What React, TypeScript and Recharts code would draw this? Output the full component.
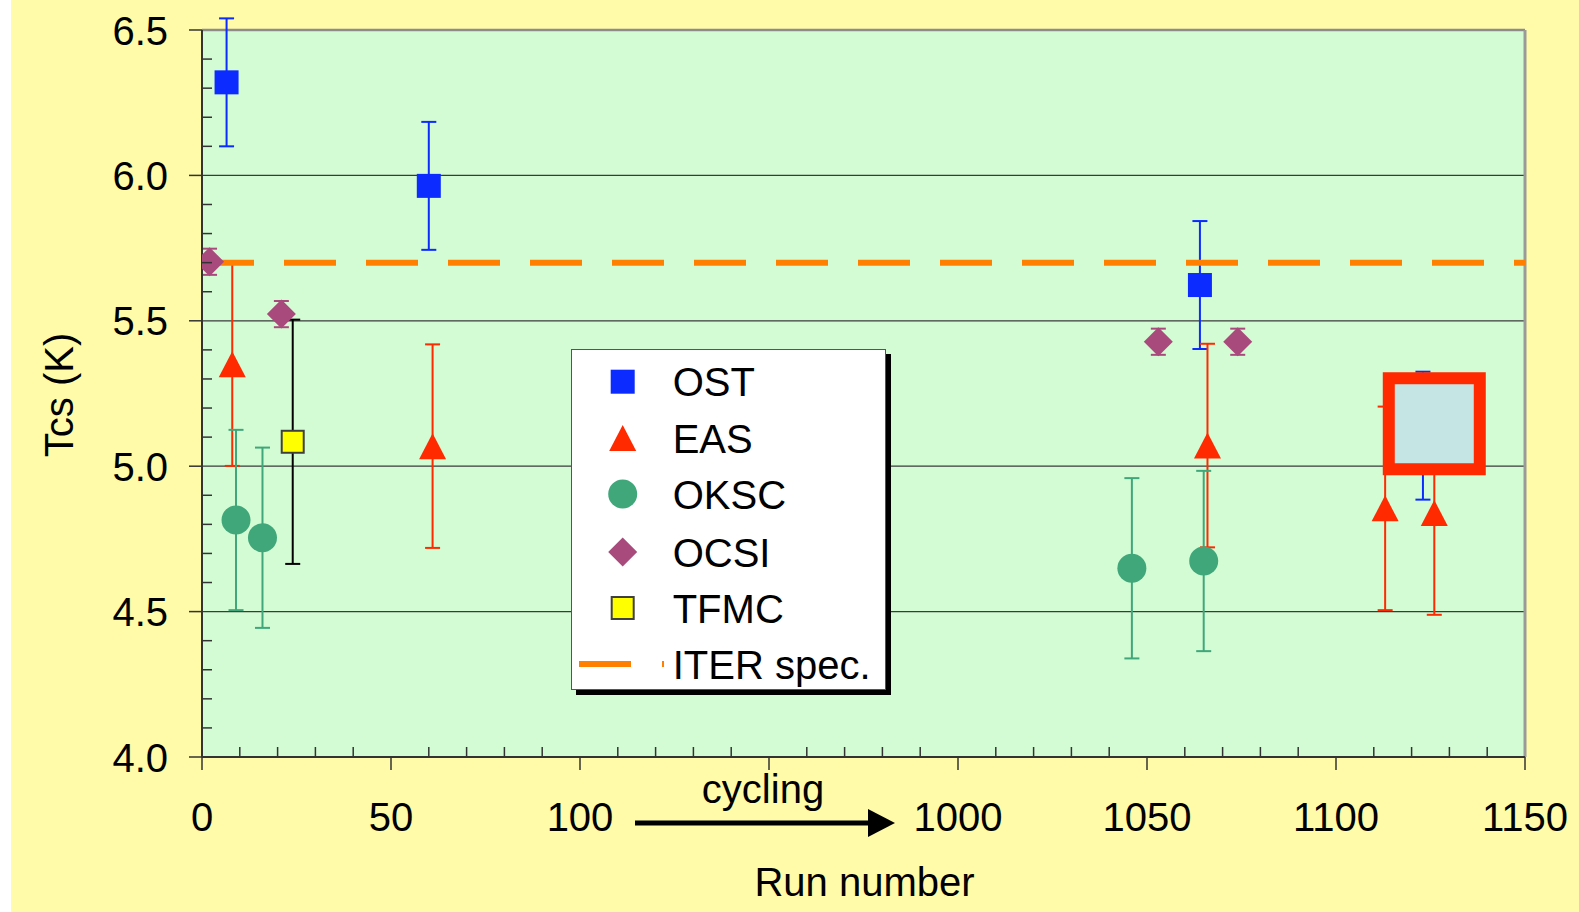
import React from 'react';
import {
  ScatterChart,
  Scatter,
  XAxis,
  YAxis,
  ErrorBar,
  ReferenceLine,
  CartesianGrid,
  Legend,
} from 'recharts';

// ---------- axis ticks (broken run-number axis: 0..150 then 1000..1150) ----------
const xTickValues = [0, 50, 100, 150, 200, 250, 300, 350];
const xTickLabels = ['0', '50', '100', 'cycling', '1000', '1050', '1100', '1150'];
const yTickValues = [4.0, 4.5, 5.0, 5.5, 6.0, 6.5];
const yTickLabels = ['4.0', '4.5', '5.0', '5.5', '6.0', '6.5'];
const xMinorStep = 10;
const yMinorStep = 0.1;

// ---------- series (run number, Tcs [K], error [K]) ----------
const ostRuns = [6.5, 60, 1064, 1123];
const ostTcs = [6.32, 5.964, 5.623, 5.105];
const ostErr = [0.22, 0.22, 0.22, 0.22];

const easRuns = [8, 61, 1066, 1113, 1126];
const easTcs = [5.351, 5.069, 5.071, 4.855, 4.839];
const easErr = [0.35, 0.35, 0.35, 0.35, 0.35];

const okscRuns = [9, 16, 1046, 1065];
const okscTcs = [4.815, 4.754, 4.649, 4.674];
const okscErr = [0.31, 0.31, 0.31, 0.31];

const ocsiRuns = [2, 21, 1053, 1074];
const ocsiTcs = [5.703, 5.523, 5.428, 5.428];
const ocsiErr = [0.045, 0.045, 0.045, 0.045];

const tfmcRuns = [24];
const tfmcTcs = [5.084];
const tfmcErr = [0.42];

const highlightRuns = [1126];
const highlightTcs = [5.146];

const iterSpec = 5.7;

// broken axis: runs >= 1000 are shifted so that 1000 sits at position 200
const runToPos = (run: number) => (run >= 1000 ? run - 800 : run);

const build = (runs: number[], tcs: number[], err?: number[]) =>
  runs.map((r, i) => ({ x: runToPos(r), y: tcs[i], err: err ? err[i] : 0 }));

const ostData = build(ostRuns, ostTcs, ostErr);
const easData = build(easRuns, easTcs, easErr);
const okscData = build(okscRuns, okscTcs, okscErr);
const ocsiData = build(ocsiRuns, ocsiTcs, ocsiErr);
const tfmcData = build(tfmcRuns, tfmcTcs, tfmcErr);
const highlightData = build(highlightRuns, highlightTcs);

const xAllTicks: number[] = [];
for (let v = 0; v <= 350 + 1e-9; v += xMinorStep) xAllTicks.push(Math.round(v));
const yAllTicks: number[] = [];
for (let i = 0; i <= 25; i++) yAllTicks.push(Math.round((4 + i * yMinorStep) * 10) / 10);

// ---------- colours ----------
const C_OST = '#0B2BFF';
const C_EAS = '#FF2A00';
const C_OKSC = '#3FA77A';
const C_OCSI = '#A94A7C';
const C_TFMC = '#FFFF00';
const C_ITER = '#FF8000';
const AXIS = '#333333';
const FONT = "'Liberation Sans', Arial, Helvetica, sans-serif";

// ---------- marker shapes ----------
const squareShape = (fill: string, side: number, stroke?: string) => (p: any) => (
  <rect
    x={p.cx - side / 2}
    y={p.cy - side / 2}
    width={side}
    height={side}
    fill={fill}
    stroke={stroke || 'none'}
    strokeWidth={stroke ? 2 : 0}
  />
);
const triangleShape = (fill: string) => (p: any) => (
  <polygon
    points={`${p.cx},${p.cy - 13} ${p.cx + 13.5},${p.cy + 13} ${p.cx - 13.5},${p.cy + 13}`}
    fill={fill}
  />
);
const circleShape = (fill: string) => (p: any) => <circle cx={p.cx} cy={p.cy} r={14.5} fill={fill} />;
const diamondShape = (fill: string) => (p: any) => (
  <polygon
    points={`${p.cx},${p.cy - 14.5} ${p.cx + 14.5},${p.cy} ${p.cx},${p.cy + 14.5} ${p.cx - 14.5},${p.cy}`}
    fill={fill}
  />
);
const highlightShape = (p: any) => (
  <rect x={p.cx - 45.5} y={p.cy - 45.5} width={91} height={91} fill="#C5E4E4" stroke={C_EAS} strokeWidth={12} />
);

// ---------- ticks ----------
const XTick = (props: any) => {
  const { x, y, payload } = props;
  const idx = xTickValues.findIndex((t) => Math.abs(t - payload.value) < 1e-6);
  if (idx < 0) {
    return <line x1={x} x2={x} y1={y} y2={y - 10} stroke={AXIS} strokeWidth={1.5} />;
  }
  const label = xTickLabels[idx];
  return (
    <g>
      <line x1={x} x2={x} y1={y} y2={y + 13} stroke={AXIS} strokeWidth={1.5} />
      {label === 'cycling' ? (
        <g>
          <text x={x - 6} y={y + 46} textAnchor="middle" fontSize={40} fill="#000" fontFamily={FONT}>
            cycling
          </text>
          <line x1={x - 134} x2={x + 100} y1={y + 66} y2={y + 66} stroke="#000" strokeWidth={5} />
          <polygon points={`${x + 99},${y + 52} ${x + 126},${y + 66} ${x + 99},${y + 80}`} fill="#000" />
        </g>
      ) : (
        <text x={x} y={y + 74} textAnchor="middle" fontSize={40} fill="#000" fontFamily={FONT}>
          {label}
        </text>
      )}
    </g>
  );
};

const YTick = (props: any) => {
  const { x, y, payload } = props;
  const idx = yTickValues.findIndex((t) => Math.abs(t - payload.value) < 1e-6);
  if (idx < 0) {
    return <line x1={x} x2={x + 10} y1={y} y2={y} stroke={AXIS} strokeWidth={1.5} />;
  }
  return (
    <g>
      <line x1={x - 13} x2={x} y1={y} y2={y} stroke={AXIS} strokeWidth={1.5} />
      <text x={x - 34} y={y + 14.5} textAnchor="end" fontSize={40} fill="#000" fontFamily={FONT}>
        {yTickLabels[idx]}
      </text>
    </g>
  );
};

// ---------- legend ----------
const legendItems = [
  { name: 'OST', kind: 'square', color: C_OST },
  { name: 'EAS', kind: 'triangle', color: C_EAS },
  { name: 'OKSC', kind: 'circle', color: C_OKSC },
  { name: 'OCSI', kind: 'diamond', color: C_OCSI },
  { name: 'TFMC', kind: 'tfmc', color: C_TFMC },
  { name: 'ITER spec.', kind: 'line', color: C_ITER },
];

const LegendBox = () => {
  const mx = 50.7;
  const tx = 100.7;
  const rowY = [31.7, 88, 144, 202, 258, 314];
  return (
    <div
      style={{
        width: 313,
        height: 339,
        background: '#fff',
        border: '1px solid #555',
        boxShadow: '5px 5px 0 #000',
        fontFamily: FONT,
      }}
    >
      <svg width={313} height={339} style={{ display: 'block' }}>
        {legendItems.map((it, i) => {
          const cy = rowY[i];
          let marker: React.ReactNode = null;
          if (it.kind === 'square') marker = squareShape(it.color, 24)({ cx: mx, cy });
          else if (it.kind === 'triangle') marker = triangleShape(it.color)({ cx: mx, cy });
          else if (it.kind === 'circle') marker = circleShape(it.color)({ cx: mx, cy });
          else if (it.kind === 'diamond') marker = diamondShape(it.color)({ cx: mx, cy });
          else if (it.kind === 'tfmc') marker = squareShape(it.color, 22, '#404040')({ cx: mx, cy });
          else
            marker = (
              <g>
                <line x1={7} x2={59} y1={cy} y2={cy} stroke={it.color} strokeWidth={6} />
                <line x1={90} x2={92} y1={cy} y2={cy} stroke={it.color} strokeWidth={6} />
              </g>
            );
          return (
            <g key={it.name}>
              {marker}
              <text x={tx} y={cy + 14.5} fontSize={40} fill="#000" fontFamily={FONT}>
                {it.name}
              </text>
            </g>
          );
        })}
      </svg>
    </div>
  );
};

export default function App() {
  return (
    <div
      style={{
        position: 'absolute',
        left: 0,
        top: 0,
        width: 1579,
        height: 912,
        background: '#ffffff',
        fontFamily: FONT,
      }}
    >
      <div style={{ position: 'absolute', left: 11, top: 0, width: 1568, height: 912, background: '#FFFBA8' }}>
        <ScatterChart width={1568} height={912} margin={{ top: 30, right: 54, bottom: 95, left: 0 }}>
          <CartesianGrid fill="#D4FCD4" fillOpacity={1} horizontal={false} vertical={false} stroke="none" />
          <XAxis
            type="number"
            dataKey="x"
            domain={[0, 350]}
            ticks={xAllTicks}
            interval={0}
            height={60}
            tickSize={0}
            tickMargin={0}
            tickLine={false}
            tick={XTick}
            axisLine={{ stroke: AXIS, strokeWidth: 2 }}
            allowDataOverflow
            label={{
              value: 'Run number',
              content: (p: any) => {
                const vb = p.viewBox || { x: 191, y: 757, width: 1323, height: 60 };
                return (
                  <text
                    x={vb.x + vb.width / 2 + 1}
                    y={vb.y + 139}
                    textAnchor="middle"
                    fontSize={40}
                    fill="#000"
                    fontFamily={FONT}
                  >
                    Run number
                  </text>
                );
              },
            }}
          />
          <YAxis
            type="number"
            dataKey="y"
            domain={[4, 6.5]}
            ticks={yAllTicks}
            interval={0}
            width={191}
            tickSize={0}
            tickMargin={0}
            tickLine={false}
            tick={YTick}
            axisLine={{ stroke: AXIS, strokeWidth: 2 }}
            allowDataOverflow
            label={{
              value: 'Tcs (K)',
              content: (p: any) => {
                const vb = p.viewBox || { x: 0, y: 30, width: 191, height: 727 };
                const cy = vb.y + vb.height / 2 + 1.5;
                return (
                  <text
                    transform={`translate(${vb.x + 62},${cy}) rotate(-90)`}
                    textAnchor="middle"
                    fontSize={40}
                    fill="#000"
                    fontFamily={FONT}
                  >
                    Tcs (K)
                  </text>
                );
              },
            }}
          />
          {[4.5, 5.0, 5.5, 6.0].map((v) => (
            <ReferenceLine key={v} y={v} stroke="#3a3a3a" strokeWidth={1.3} />
          ))}
          <ReferenceLine y={6.5} stroke="#8c8c8c" strokeWidth={2.5} />
          <ReferenceLine x={350} stroke="#9a9a9a" strokeWidth={3} />

          <Scatter name="OST" data={ostData} fill={C_OST} shape={squareShape(C_OST, 24)} isAnimationActive={false}>
            <ErrorBar dataKey="err" direction="y" width={7.5} stroke={C_OST} strokeWidth={2} />
          </Scatter>
          <Scatter name="EAS" data={easData} fill={C_EAS} shape={triangleShape(C_EAS)} isAnimationActive={false}>
            <ErrorBar dataKey="err" direction="y" width={7.5} stroke={C_EAS} strokeWidth={2} />
          </Scatter>
          <Scatter name="OKSC" data={okscData} fill={C_OKSC} shape={circleShape(C_OKSC)} isAnimationActive={false}>
            <ErrorBar dataKey="err" direction="y" width={7.5} stroke={C_OKSC} strokeWidth={2} />
          </Scatter>
          <ReferenceLine y={iterSpec} stroke={C_ITER} strokeWidth={6} strokeDasharray="52 30" />
          <Scatter name="OCSI" data={ocsiData} fill={C_OCSI} shape={diamondShape(C_OCSI)} isAnimationActive={false}>
            <ErrorBar dataKey="err" direction="y" width={7.5} stroke={C_OCSI} strokeWidth={2} />
          </Scatter>
          <Scatter
            name="TFMC"
            data={tfmcData}
            fill={C_TFMC}
            shape={squareShape(C_TFMC, 22, '#404040')}
            isAnimationActive={false}
          >
            <ErrorBar dataKey="err" direction="y" width={7.5} stroke="#000" strokeWidth={2} />
          </Scatter>
          <Scatter
            name="highlight"
            data={highlightData}
            fill="#C5E4E4"
            shape={highlightShape}
            legendType="none"
            isAnimationActive={false}
          />
          <Legend
            layout="vertical"
            align="center"
            verticalAlign="middle"
            wrapperStyle={{ position: 'absolute', left: 560, top: 349, width: 'auto', height: 'auto' }}
            content={() => <LegendBox />}
          />
        </ScatterChart>
      </div>
    </div>
  );
}
